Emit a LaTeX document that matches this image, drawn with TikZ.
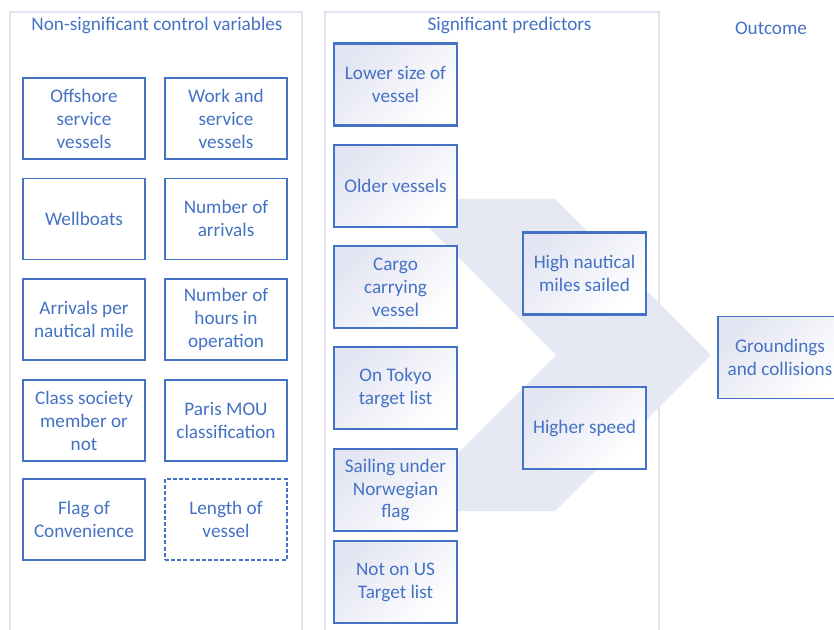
\documentclass[tikz,border=0pt]{standalone}
\usepackage{fontspec}
\setmainfont{Carlito}
\definecolor{tblue}{HTML}{4472C4}
\definecolor{panelc}{HTML}{E2E3EE}
\definecolor{chev}{HTML}{E6E8F4}
\definecolor{grad}{HTML}{E3E5F2}
\begin{document}
\begin{tikzpicture}[x=0.75pt,y=-0.75pt,
  every node/.style={font=\fontsize{14.4}{17.2}\selectfont, text=tblue, align=center, inner sep=0pt},
  ctrl/.style={draw=tblue, line width=1.3pt*0.75, fill=white, minimum width=122*0.75pt, minimum height=81*0.75pt},
  pred/.style={draw=tblue, line width=2.4pt*0.75, shading=axis, top color=grad, bottom color=white, shading angle=45, minimum width=123*0.75pt, minimum height=82*0.75pt},
  outc/.style={draw=tblue, line width=1.5pt*0.75, shading=axis, top color=grad, bottom color=white, shading angle=45, minimum width=124*0.75pt, minimum height=82*0.75pt},
  panel/.style={draw=panelc, line width=1.3pt*0.75},
  dashbox/.style={dash pattern=on 3pt off 1.6pt},
  title/.style={font=\fontsize{14.4}{17.2}\selectfont}]
\useasboundingbox (0,0) rectangle (834,630);
\clip (0,0) rectangle (834,630);
% panels
\draw[panel] (10,12) rectangle (302,640);
\draw[panel] (325,12) rectangle (659,640);
% titles
\node[title] (t1) at (157,25) {Non-significant control variables};
\node[title] (t2) at (509.5,25) {Significant predictors};
\node[title] (t3) at (771,28) {Outcome};
% chevron
\fill[chev] (400,199) -- (555,199) -- (711,355) -- (555,511) -- (400,511) -- (556,355) -- cycle;
% control variables
\node[ctrl] (c1) at (84,118.5) {Offshore\\service\\vessels};
\node[ctrl] (c2) at (226,118.5) {Work and\\service\\vessels};
\node[ctrl] (c3) at (84,218.75) {Wellboats};
\node[ctrl] (c4) at (226,218.75) {Number of\\arrivals};
\node[ctrl] (c5) at (84,319.5) {Arrivals per\\nautical mile};
\node[ctrl] (c6) at (226,319.5) {Number of\\hours in\\operation};
\node[ctrl] (c7) at (84,420.5) {Class society\\member or\\not};
\node[ctrl] (c8) at (226,420.5) {Paris MOU\\classification};
\node[ctrl] (c9) at (84,519.5) {Flag of\\Convenience};
\node[ctrl,dashbox] (c10) at (226,519.5) {Length of\\vessel};
% predictors
\node[pred] (p1) at (395.5,84.5) {Lower size of\\vessel};
\node[pred] (p2) at (395.5,186) {Older vessels};
\node[pred] (p3) at (395.5,287) {Cargo\\carrying\\vessel};
\node[pred] (p4) at (395.5,388) {On Tokyo\\target list};
\node[pred] (p5) at (395.5,490) {Sailing under\\Norwegian\\flag};
\node[pred] (p6) at (395.5,582) {Not on US\\Target list};
\node[pred] (m1) at (584.5,273.5) {High nautical\\miles sailed};
\node[pred] (m2) at (584.5,428) {Higher speed};
% outcome
\node[outc] (o1) at (780,357.5) {Groundings\\and collisions};
\end{tikzpicture}
\end{document}
